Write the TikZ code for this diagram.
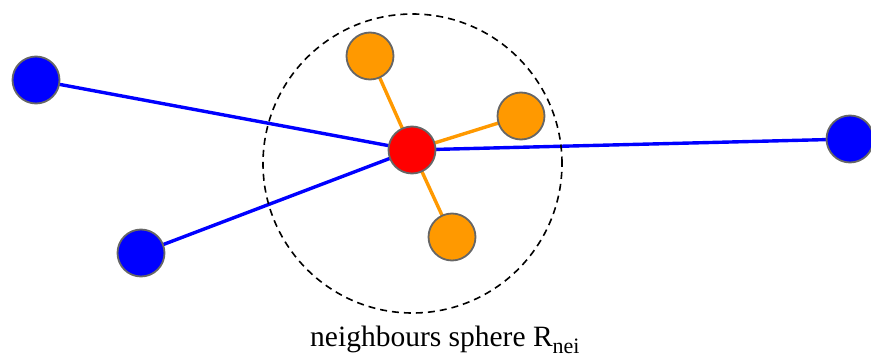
\documentclass[tikz,border=0pt]{standalone}
\usepackage{fontspec}
\setmainfont{Liberation Serif}
\usetikzlibrary{backgrounds}
\definecolor{nodeblue}{HTML}{0000FF}
\definecolor{nodeorange}{HTML}{FF9900}
\definecolor{nodered}{HTML}{FF0000}
\definecolor{nodeborder}{HTML}{666666}
\tikzset{
  atom/.style={circle, draw=nodeborder, line width=1.8pt, minimum size=47pt, inner sep=0pt},
  blueatom/.style={atom, fill=nodeblue},
  orangeatom/.style={atom, fill=nodeorange},
  redatom/.style={atom, fill=nodered},
  bluelink/.style={draw=nodeblue, line width=3.4pt},
  orangelink/.style={draw=nodeorange, line width=3.4pt},
  sphere/.style={circle, draw=black, line width=1.6pt, dash pattern=on 7pt off 5pt, minimum size=299pt, inner sep=0pt},
}
\begin{document}
\begin{tikzpicture}[x=1pt, y=-1pt]
\useasboundingbox (0,0) rectangle (871,358);
\node[sphere] (rsph) at (412.5,163.5) {};
\node[redatom] (c) at (412,150) {};
\node[blueatom] (b1) at (36,80) {};
\node[blueatom] (b2) at (141,253) {};
\node[blueatom] (b3) at (850,139) {};
\node[orangeatom] (o1) at (370,56) {};
\node[orangeatom] (o2) at (521,116) {};
\node[orangeatom] (o3) at (452,237) {};
\begin{scope}[on background layer]
  \draw[bluelink] (b1.center) -- (c.center);
  \draw[bluelink] (b2.center) -- (c.center);
  \draw[bluelink] (c.center) -- (b3.center);
  \draw[orangelink] (c.center) -- (o1.center);
  \draw[orangelink] (c.center) -- (o2.center);
  \draw[orangelink] (c.center) -- (o3.center);
\end{scope}
\node[anchor=base west, inner sep=0pt, font=\fontsize{29.5}{31}\selectfont] (lbl) at (310,347)
  {neighbours sphere R\raisebox{-6pt}{\fontsize{22}{24}\selectfont nei}};
\end{tikzpicture}
\end{document}
